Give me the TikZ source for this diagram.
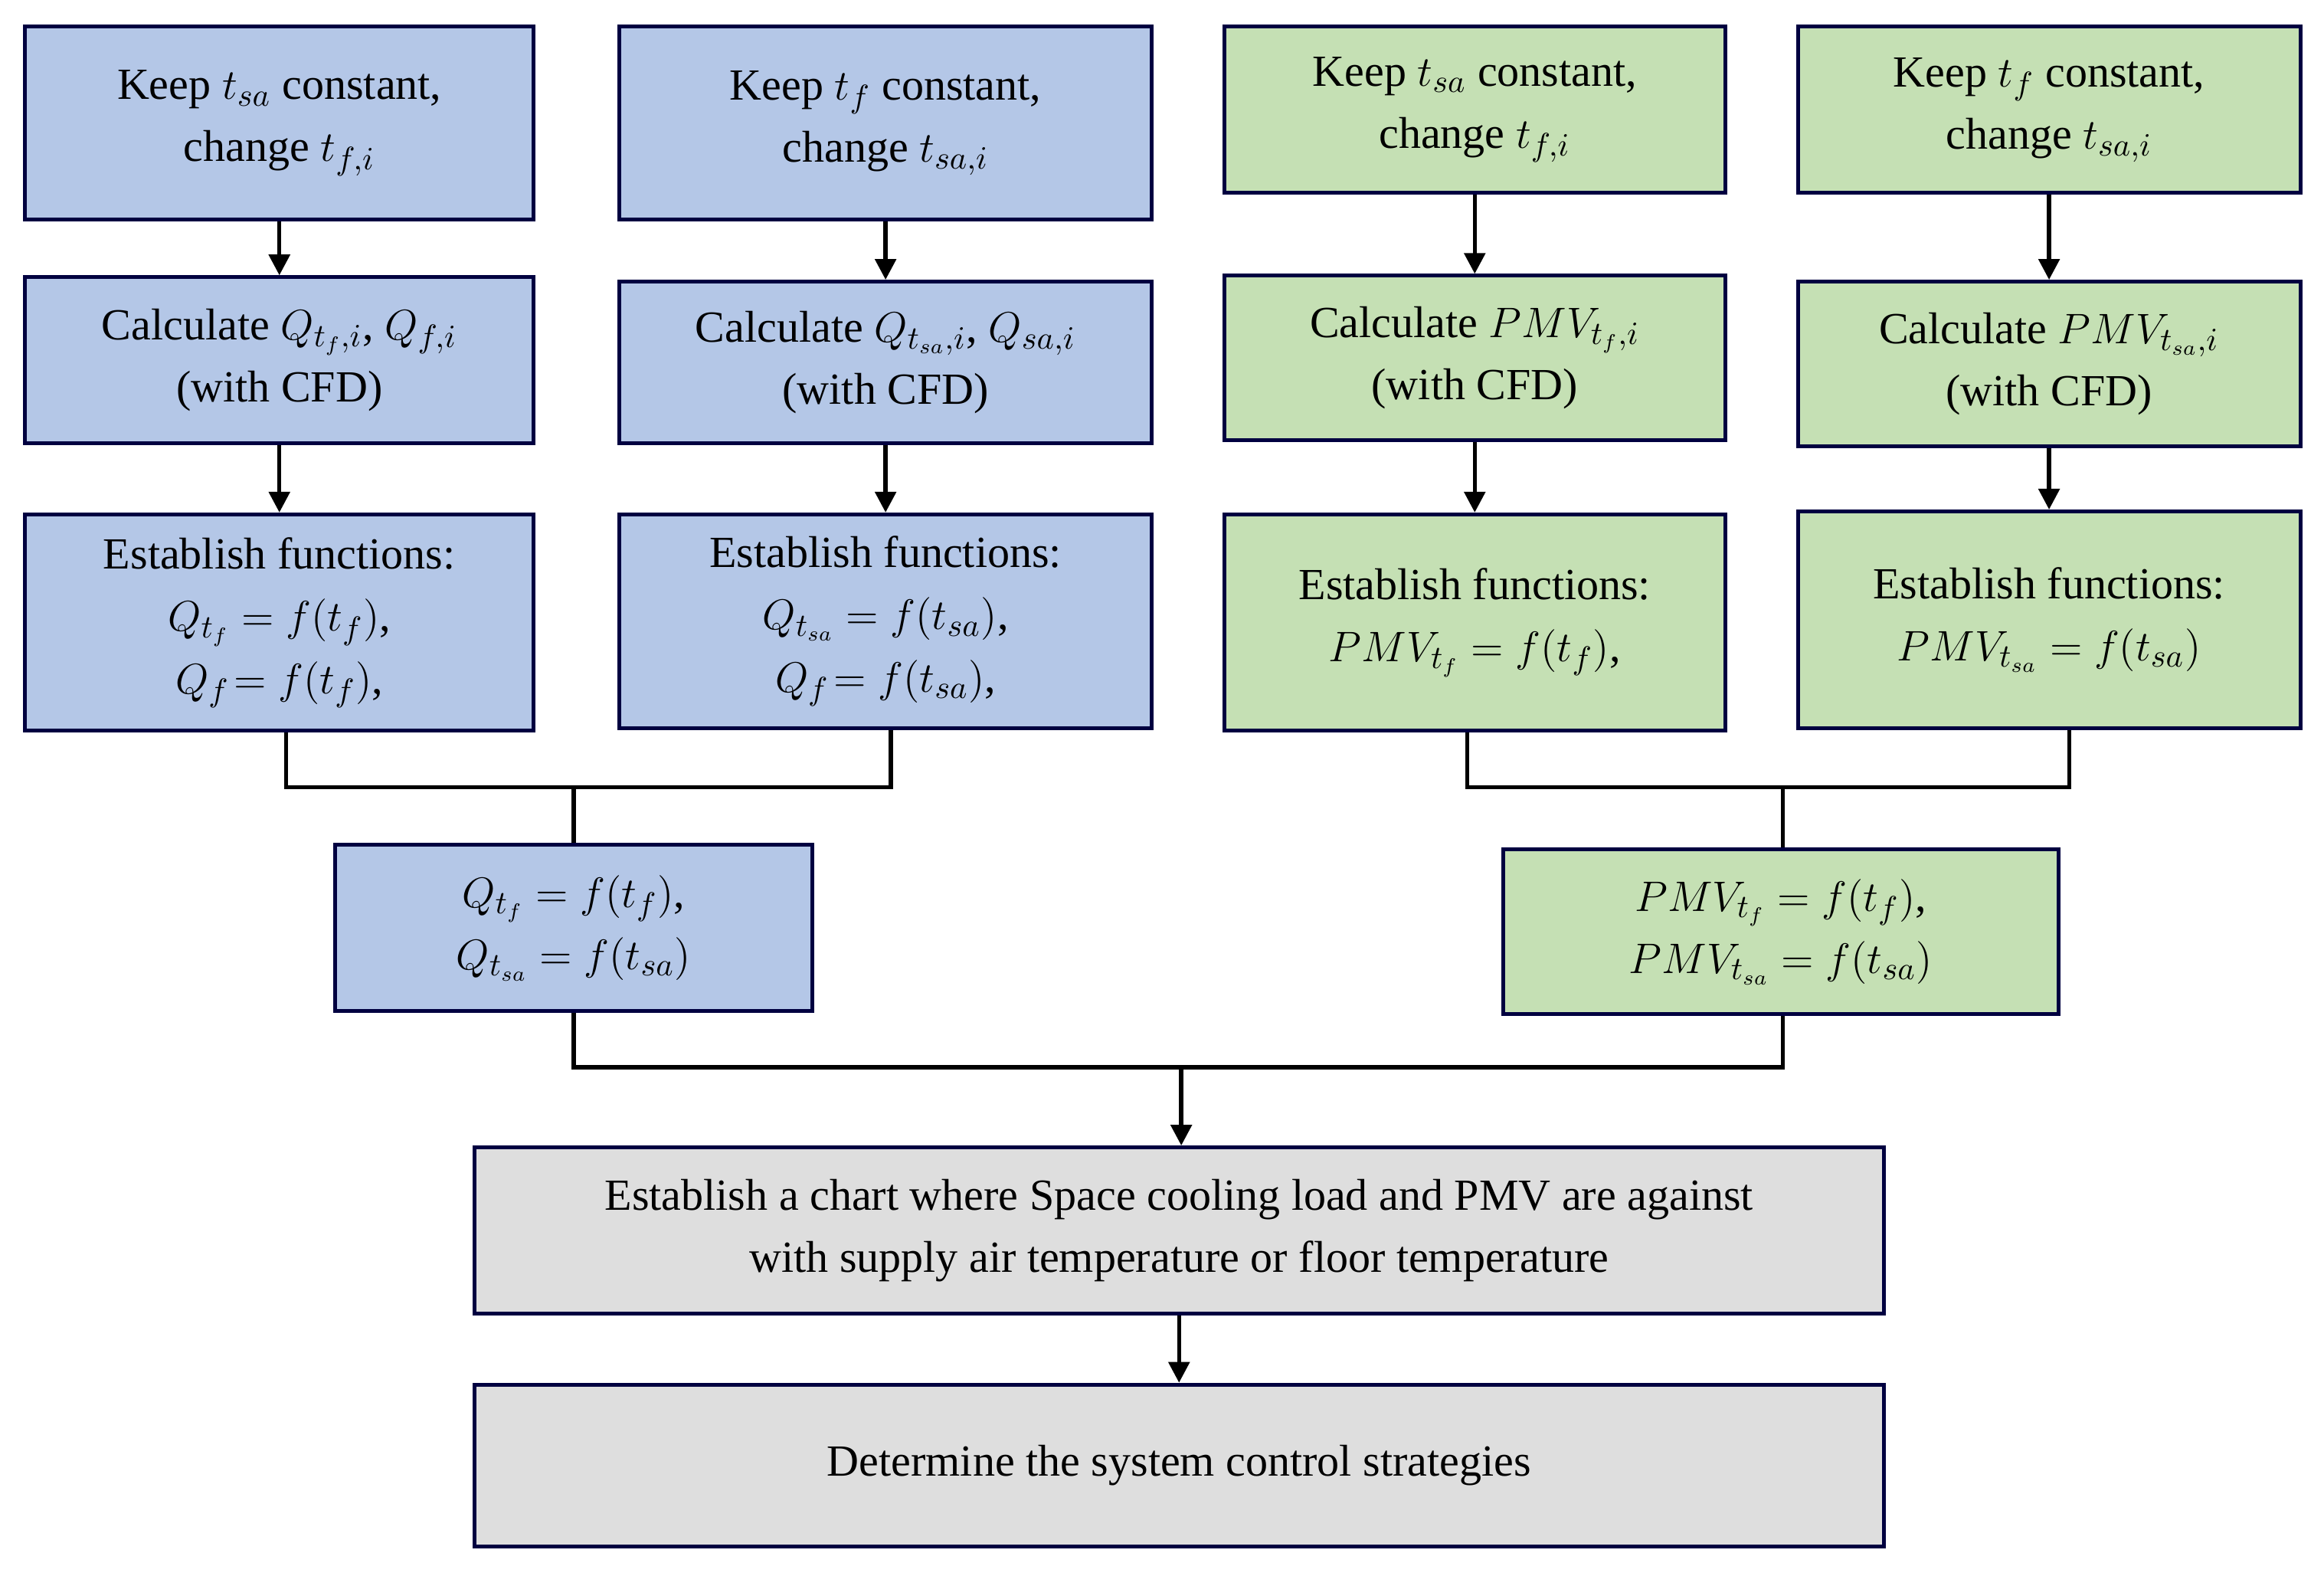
\documentclass[tikz,border=0pt]{standalone}
\usepackage{fontspec}
\setmainfont{Liberation Serif}
\usetikzlibrary{arrows.meta}
\begin{document}
\begin{tikzpicture}[x=0.5pt,y=-0.5pt,
 box/.style={draw=black!75!blue, line width=1.3pt, align=center, inner sep=2pt, font=\fontsize{15}{21}\selectfont},
 bl/.style={box, fill=blueF},
 gr/.style={box, fill=greenF},
 gy/.style={box, fill=grayF},
 ln/.style={line width=1.4pt},
 ar/.style={ln, -{Triangle[length=7pt,width=7pt]}}]
\definecolor{blueF}{HTML}{B4C7E7}
\definecolor{greenF}{HTML}{C5E0B4}
\definecolor{grayF}{HTML}{DEDEDE}
\useasboundingbox (0,0) rectangle (1568,1063);
% row 1
\node[bl,minimum width=171.5pt,minimum height=65pt] (b1) at (188.5,83) {Keep $t_{sa}$ constant,\\ change $t_{f,i}$};
\node[bl,minimum width=179.5pt,minimum height=65pt] (b2) at (597.5,83) {Keep $t_{f}$ constant,\\ change $t_{sa,i}$};
\node[gr,minimum width=169pt,minimum height=56pt] (g1) at (995,74) {Keep $t_{sa}$ constant,\\ change $t_{f,i}$};
\node[gr,minimum width=169.5pt,minimum height=56pt] (g2) at (1382.5,74) {Keep $t_{f}$ constant,\\ change $t_{sa,i}$};
% row 2
\node[bl,minimum width=171.5pt,minimum height=56pt] (b3) at (188.5,243) {Calculate $Q_{t_{f},i}$, $Q_{f,i}$\\ (with CFD)};
\node[bl,minimum width=179.5pt,minimum height=54.5pt] (b4) at (597.5,244.5) {Calculate $Q_{t_{sa},i}$, $Q_{sa,i}$\\ (with CFD)};
\node[gr,minimum width=169pt,minimum height=55.5pt] (g3) at (995,241.5) {Calculate $PMV_{t_{f},i}$\\ (with CFD)};
\node[gr,minimum width=169.5pt,minimum height=55.5pt] (g4) at (1382.5,245.5) {Calculate $PMV_{t_{sa},i}$\\ (with CFD)};
% row 3
\node[bl,minimum width=171.5pt,minimum height=73pt] (b5) at (188.5,420) {Establish functions:\\ $Q_{t_f}=f(t_f)$,\\ $Q_f\!=f(t_f)$,};
\node[bl,minimum width=179.5pt,minimum height=72pt] (b6) at (597.5,419) {Establish functions:\\ $Q_{t_{sa}}=f(t_{sa})$,\\ $Q_f\!=f(t_{sa})$,};
\node[gr,minimum width=169pt,minimum height=73pt] (g5) at (995,420) {Establish functions:\\ $PMV_{t_f}=f(t_f)$,};
\node[gr,minimum width=169.5pt,minimum height=73pt] (g6) at (1382.5,418) {Establish functions:\\ $PMV_{t_{sa}}=f(t_{sa})$};
% merges
\node[bl,minimum width=161pt,minimum height=56pt] (bm) at (387,626) {$Q_{t_f}=f(t_f)$,\\ $Q_{t_{sa}}=f(t_{sa})$};
\node[gr,minimum width=187.5pt,minimum height=55.5pt] (gm) at (1201.5,628.5) {$PMV_{t_f}=f(t_f)$,\\ $PMV_{t_{sa}}=f(t_{sa})$};
\node[gy,minimum width=475.5pt,minimum height=56pt] (c) at (795.5,830) {Establish a chart where Space cooling load and PMV are against\\ with supply air temperature or floor temperature};
\node[gy,minimum width=475.5pt,minimum height=54.5pt] (d) at (795.5,988.5) {Determine the system control strategies};
% arrows
\foreach \a/\b in {b1/b3,b3/b5,b2/b4,b4/b6,g1/g3,g3/g5,g2/g4,g4/g6,c/d}
  \draw[ar] (\a) -- (\b);
\coordinate (jb) at (387,531);
\coordinate (jg) at (1203,531);
\coordinate (jm) at (797,720);
\draw[ln] (b5.south -| 193,0) |- (jb) -| (b6.south -| 601,0);
\draw[ln] (jb) -- (bm.north -| jb);
\draw[ln] (g5.south -| 990,0) |- (jg) -| (g6.south -| 1396,0);
\draw[ln] (jg) -- (gm.north -| jg);
\draw[ln] (bm.south) |- (jm) -| (gm.south -| jg);
\draw[ar] (jm) -- (c.north -| jm);
\end{tikzpicture}
\end{document}
